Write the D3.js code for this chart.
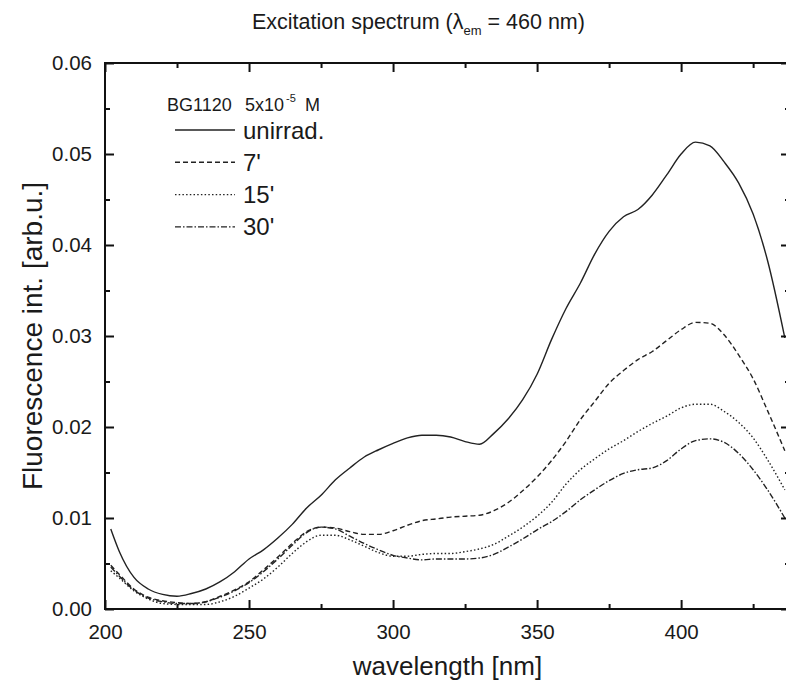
<!DOCTYPE html>
<html>
<head>
<meta charset="utf-8">
<script src="https://cdn.jsdelivr.net/npm/d3@7"></script>
<style>
    body { margin: 0; background: #fff; }
    text { font-family: "Liberation Sans", Arial, sans-serif; fill: #1a1a1a; }
</style>
</head>
<body>
<div id="chart"></div>
<script>
// wavelength grid (nm)
var wavelength = [202, 205, 210, 215, 220, 225, 230, 235, 240, 245, 250, 255, 260, 265, 270, 275, 280, 285, 290, 295,
    300, 305, 310, 315, 320, 325, 330, 335, 340, 345, 350, 355, 360, 365, 370, 375, 380, 385, 390, 395,
    400, 405, 410, 415, 420, 425, 430, 436]

var unirrad = [0.0088, 0.0063, 0.0035, 0.0022, 0.0016, 0.0014, 0.0017, 0.0022, 0.0030, 0.0041, 0.0055, 0.0065, 0.0078, 0.0093, 0.0111, 0.0125, 0.0142, 0.0155, 0.0167, 0.0175,
    0.0182, 0.0188, 0.0191, 0.0191, 0.0189, 0.0184, 0.0181, 0.0193, 0.0209, 0.0230, 0.0258, 0.0296, 0.0330, 0.0358, 0.0390, 0.0415, 0.0431, 0.0439, 0.0455, 0.0477,
    0.0500, 0.0513, 0.0509, 0.0491, 0.0468, 0.0434, 0.0383, 0.0298]

var min7 = [0.0048, 0.0038, 0.0022, 0.0013, 0.0009, 0.0007, 0.0006, 0.0008, 0.0014, 0.0021, 0.0030, 0.0043, 0.0057, 0.0072, 0.0085, 0.0090, 0.0089, 0.0085, 0.0082, 0.0082,
    0.0086, 0.0092, 0.0097, 0.0099, 0.0101, 0.0102, 0.0103, 0.0108, 0.0117, 0.0130, 0.0145, 0.0163, 0.0184, 0.0208, 0.0228, 0.0248, 0.0262, 0.0274, 0.0283, 0.0295,
    0.0307, 0.0315, 0.0314, 0.0301, 0.0279, 0.0253, 0.0218, 0.0174]

var min15 = [0.0042, 0.0034, 0.0020, 0.0011, 0.0006, 0.0005, 0.0005, 0.0005, 0.0008, 0.0014, 0.0023, 0.0033, 0.0046, 0.0061, 0.0074, 0.0081, 0.0081, 0.0076, 0.0069, 0.0062,
    0.0058, 0.0058, 0.0060, 0.0061, 0.0061, 0.0063, 0.0066, 0.0071, 0.0080, 0.0090, 0.0102, 0.0117, 0.0137, 0.0153, 0.0165, 0.0176, 0.0185, 0.0195, 0.0204, 0.0212,
    0.0221, 0.0225, 0.0225, 0.0217, 0.0205, 0.0188, 0.0164, 0.0131]

var min30 = [0.0046, 0.0036, 0.0021, 0.0012, 0.0008, 0.0006, 0.0006, 0.0008, 0.0013, 0.0020, 0.0029, 0.0041, 0.0055, 0.0070, 0.0084, 0.0090, 0.0088, 0.0080, 0.0072, 0.0065,
    0.0059, 0.0056, 0.0054, 0.0055, 0.0055, 0.0055, 0.0056, 0.0060, 0.0068, 0.0077, 0.0087, 0.0096, 0.0107, 0.0120, 0.0131, 0.0141, 0.0149, 0.0153, 0.0155, 0.0163,
    0.0176, 0.0185, 0.0187, 0.0183, 0.0171, 0.0153, 0.0131, 0.0100]

var seriesNames = ["unirrad.", "7'", "15'", "30'"]
var seriesValues = [unirrad, min7, min15, min30]
var dashes = [null, "5,3", "1.5,2.2", "6,2,1.5,2"]

var xMajor = [200, 250, 300, 350, 400]
var xMinor = [225, 275, 325, 375, 425]
var yMajor = [0, 0.01, 0.02, 0.03, 0.04, 0.05, 0.06]
var yMinor = [0.005, 0.015, 0.025, 0.035, 0.045, 0.055]

var svgWidth = 786
var svgHeight = 682
var plot = { left: 105, right: 790, top: 63, bottom: 609 }

var svg = d3.select("#chart")
    .append("svg")
    .attr("width", svgWidth)
    .attr("height", svgHeight)

var x = d3.scaleLinear().domain([200, 437.8]).range([plot.left, plot.right])
var y = d3.scaleLinear().domain([0, 0.06]).range([plot.bottom, plot.top])

svg.append("clipPath").attr("id", "clip")
    .append("rect")
    .attr("x", plot.left).attr("y", plot.top)
    .attr("width", plot.right - plot.left).attr("height", plot.bottom - plot.top)

// curves
var line = d3.line()
    .x((d, i) => x(wavelength[i]))
    .y(d => y(d))
    .curve(d3.curveMonotoneX)

var curves = svg.append("g").attr("clip-path", "url(#clip)")
seriesValues.forEach(function (vals, i) {
    curves.append("path")
        .datum(vals)
        .attr("d", line)
        .attr("fill", "none")
        .attr("stroke", "#222")
        .attr("stroke-width", 1.4)
        .attr("stroke-dasharray", dashes[i])
})

// axes, ticks pointing inward
function styleAxis(g) {
    g.select(".domain").remove()
    g.selectAll(".tick line").attr("stroke", "#111").attr("stroke-width", 2)
    g.selectAll(".tick text").attr("font-size", 20.5).attr("fill", "#1a1a1a")
        .attr("font-family", "Liberation Sans, Arial, sans-serif")
}

svg.append("g")
    .attr("transform", `translate(0,${plot.bottom})`)
    .call(d3.axisBottom(x).tickValues(xMajor).tickSize(-9).tickPadding(15).tickFormat(d3.format("d")))
    .call(styleAxis)
svg.append("g")
    .attr("transform", `translate(0,${plot.bottom})`)
    .call(d3.axisBottom(x).tickValues(xMinor).tickSize(-5).tickFormat(""))
    .call(styleAxis)
svg.append("g")
    .attr("transform", `translate(0,${plot.top})`)
    .call(d3.axisTop(x).tickValues(xMajor).tickSize(-9).tickFormat(""))
    .call(styleAxis)
svg.append("g")
    .attr("transform", `translate(0,${plot.top})`)
    .call(d3.axisTop(x).tickValues(xMinor).tickSize(-5).tickFormat(""))
    .call(styleAxis)

svg.append("g")
    .attr("transform", `translate(${plot.left},0)`)
    .call(d3.axisLeft(y).tickValues(yMajor).tickSize(-9).tickPadding(13).tickFormat(d3.format(".2f")))
    .call(styleAxis)
svg.append("g")
    .attr("transform", `translate(${plot.left},0)`)
    .call(d3.axisLeft(y).tickValues(yMinor).tickSize(-5).tickFormat(""))
    .call(styleAxis)
svg.append("g")
    .attr("transform", `translate(${plot.right},0)`)
    .call(d3.axisRight(y).tickValues(yMajor).tickSize(-9).tickFormat(""))
    .call(styleAxis)
svg.append("g")
    .attr("transform", `translate(${plot.right},0)`)
    .call(d3.axisRight(y).tickValues(yMinor).tickSize(-5).tickFormat(""))
    .call(styleAxis)

// frame
svg.append("rect")
    .attr("x", plot.left).attr("y", plot.top)
    .attr("width", plot.right - plot.left).attr("height", plot.bottom - plot.top)
    .attr("fill", "none")
    .attr("stroke", "#111")
    .attr("stroke-width", 2)

// title
var title = svg.append("text")
    .attr("x", 252).attr("y", 29)
    .attr("font-size", 21.5)
title.append("tspan").text("Excitation spectrum (λ")
title.append("tspan").attr("font-size", 13).attr("dy", 6).text("em")
title.append("tspan").attr("dy", -6).text(" = 460 nm)")

// axis labels
svg.append("text")
    .attr("x", (plot.left + plot.right) / 2)
    .attr("y", 675)
    .attr("text-anchor", "middle")
    .attr("font-size", 26)
    .text("wavelength [nm]")

svg.append("text")
    .attr("transform", `translate(42,${(plot.top + plot.bottom) / 2}) rotate(-90)`)
    .attr("text-anchor", "middle")
    .attr("font-size", 28)
    .text("Fluorescence int. [arb.u.]")

// legend
var legendHead = svg.append("g")
legendHead.append("text").attr("x", 167).attr("y", 111).attr("font-size", 18).text("BG1120")
legendHead.append("text").attr("x", 245).attr("y", 111).attr("font-size", 18).text("5x10")
legendHead.append("text").attr("x", 286).attr("y", 102).attr("font-size", 11).text("-5")
legendHead.append("text").attr("x", 305).attr("y", 111).attr("font-size", 18).text("M")

var legend = svg.append("g")
seriesNames.forEach(function (name, i) {
    var ly = 130 + i * 32.3
    legend.append("line")
        .attr("x1", 175).attr("x2", 235)
        .attr("y1", ly).attr("y2", ly)
        .attr("stroke", "#222")
        .attr("stroke-width", 1.4)
        .attr("stroke-dasharray", dashes[i])
    legend.append("text")
        .attr("x", 243).attr("y", ly + 8.5)
        .attr("font-size", 24)
        .text(name)
})
</script>
</body>
</html>
